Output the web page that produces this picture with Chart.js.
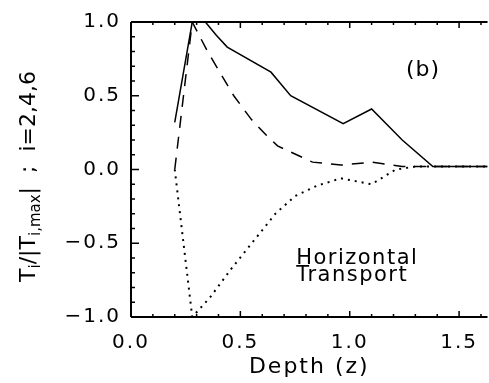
<!DOCTYPE html>
<html><head><meta charset="utf-8">
<script src="https://cdn.jsdelivr.net/npm/chart.js@4"></script>
<style>html,body{margin:0;padding:0;background:#fff;}</style>
</head><body>
<canvas id="c" width="489" height="383"></canvas>
<script>
// ---- data ----
const solidX  = [0.20, 0.28, 0.34, 0.39, 0.44, 0.64, 0.73, 0.97, 1.10, 1.24, 1.38, 1.63];
const solidY  = [0.32, 1.00, 1.00, 0.91, 0.83, 0.66, 0.50, 0.31, 0.41, 0.20, 0.02, 0.02];
const dashX   = [0.20, 0.28, 0.35, 0.47, 0.55, 0.62, 0.67, 0.83, 0.96, 1.10, 1.24, 1.38, 1.63];
const dashY   = [0.00, 1.00, 0.80, 0.50, 0.34, 0.23, 0.16, 0.05, 0.03, 0.05, 0.02, 0.02, 0.02];
const dotX    = [0.20, 0.28, 0.36, 0.46, 0.59, 0.66, 0.75, 0.85, 0.96, 1.10, 1.21, 1.30, 1.63];
const dotY    = [0.00, -1.00, -0.87, -0.67, -0.43, -0.30, -0.18, -0.11, -0.06, -0.10, 0.00, 0.02, 0.02];
const xTicks  = [0.0, 0.5, 1.0, 1.5];
const xTickLabels = ['0.0', '0.5', '1.0', '1.5'];
const yTicks  = [-1.0, -0.5, 0.0, 0.5, 1.0];
const yTickLabels = ['\u22121.0', '\u22120.5', '0.0', '0.5', '1.0'];
const xTitle = 'Depth (z)';
const panelLabel = '(b)';
const noteLines = ['Horizontal', 'Transport'];

const FONT = 'DejaVu Sans';
const pts = (xs, ys) => xs.map((x, i) => ({x, y: ys[i]}));

const framePlugin = {
  id: 'frame',
  beforeDraw(chart) {
    chart.ctx.letterSpacing = '2px';
  },
  afterDatasetsDraw(chart) {
    const {ctx, chartArea: a, scales: {x, y}} = chart;
    ctx.save();
    ctx.strokeStyle = '#000';
    ctx.lineWidth = 2;
    ctx.beginPath();
    ctx.moveTo(a.left, a.top); ctx.lineTo(a.right, a.top);
    ctx.moveTo(a.left, a.top); ctx.lineTo(a.left, a.bottom);
    ctx.moveTo(a.left, a.bottom); ctx.lineTo(a.right, a.bottom);
    ctx.stroke();
    ctx.lineWidth = 1.5;
    ctx.beginPath();
    for (let k = 0; k <= 16; k++) {
      const v = k / 10;
      const px = x.getPixelForValue(v);
      const len = (k % 5 === 0) ? 6 : 3;
      ctx.moveTo(px, a.bottom); ctx.lineTo(px, a.bottom - len);
      ctx.moveTo(px, a.top); ctx.lineTo(px, a.top + len);
    }
    for (let k = -10; k <= 10; k++) {
      const py = y.getPixelForValue(k / 10);
      const len = (k % 5 === 0) ? 8 : 4;
      ctx.moveTo(a.left, py); ctx.lineTo(a.left + len, py);
    }
    ctx.stroke();

    // annotations
    ctx.fillStyle = '#000';
    ctx.letterSpacing = '1px';
    ctx.font = '22px "' + FONT + '"';
    ctx.textAlign = 'center';
    ctx.textBaseline = 'middle';
    ctx.fillText(panelLabel, x.getPixelForValue(1.335), y.getPixelForValue(0.67));
    ctx.font = '21px "' + FONT + '"';
    ctx.letterSpacing = '1.5px';
    ctx.textAlign = 'left';
    ctx.textBaseline = 'alphabetic';
    ctx.fillText(noteLines[0], x.getPixelForValue(0.755), y.getPixelForValue(-0.64));
    ctx.fillText(noteLines[1], x.getPixelForValue(0.755), y.getPixelForValue(-0.755));

    // y-axis title with subscripts
    ctx.letterSpacing = '0px';
    const big = '22px "' + FONT + '"';
    const small = '15px "' + FONT + '"';
    const parts = [
      ['T', big, 0], ['i', small, 5], ['/|T', big, 0], ['i,max', small, 5], ['|  ;  i=2,4,6', big, 0]
    ];
    let total = 0;
    for (const p of parts) { ctx.font = p[1]; total += ctx.measureText(p[0]).width; }
    ctx.translate(35, (a.top + a.bottom) / 2 + 7);
    ctx.rotate(-Math.PI / 2);
    let cx = -total / 2;
    for (const p of parts) {
      ctx.font = p[1];
      ctx.fillText(p[0], cx, p[2]);
      cx += ctx.measureText(p[0]).width;
    }
    ctx.restore();
  }
};

new Chart(document.getElementById('c'), {
  type: 'line',
  data: {
    datasets: [
      {data: pts(solidX, solidY), borderColor: '#000', borderWidth: 1.5, pointRadius: 0, fill: false, tension: 0},
      {data: pts(dashX, dashY), borderColor: '#000', borderWidth: 1.5, borderDash: [12, 9], pointRadius: 0, fill: false, tension: 0},
      {data: pts(dotX, dotY), borderColor: '#000', borderWidth: 2, borderDash: [2, 5], pointRadius: 0, fill: false, tension: 0}
    ]
  },
  options: {
    responsive: false, animation: false, devicePixelRatio: 1,
    layout: {padding: {left: 0, right: 0, top: 13, bottom: 0}},
    plugins: {legend: {display: false}, tooltip: {enabled: false}},
    scales: {
      x: {
        type: 'linear', min: 0, max: 1.63,
        border: {display: false},
        grid: {display: false, drawTicks: false},
        afterBuildTicks: s => { s.ticks = xTicks.map(v => ({value: v})); },
        afterFit: s => { s.height = 66; },
        ticks: {padding: 14, maxRotation: 0, autoSkip: false, color: '#000',
                font: {family: FONT, size: 20},
                callback: (v, i) => xTickLabels[i]},
        title: {display: true, text: xTitle, color: '#000', font: {family: FONT, size: 22},
                padding: {top: 0, bottom: 3}}
      },
      y: {
        type: 'linear', min: -1, max: 1,
        border: {display: false},
        grid: {display: false, drawTicks: false},
        afterBuildTicks: s => { s.ticks = yTicks.map(v => ({value: v})); },
        afterFit: s => { s.width = 131; },
        ticks: {padding: 10, autoSkip: false, color: '#000',
                font: {family: FONT, size: 20},
                callback: (v, i) => yTickLabels[i]}
      }
    }
  },
  plugins: [framePlugin]
});
</script>
</body></html>
